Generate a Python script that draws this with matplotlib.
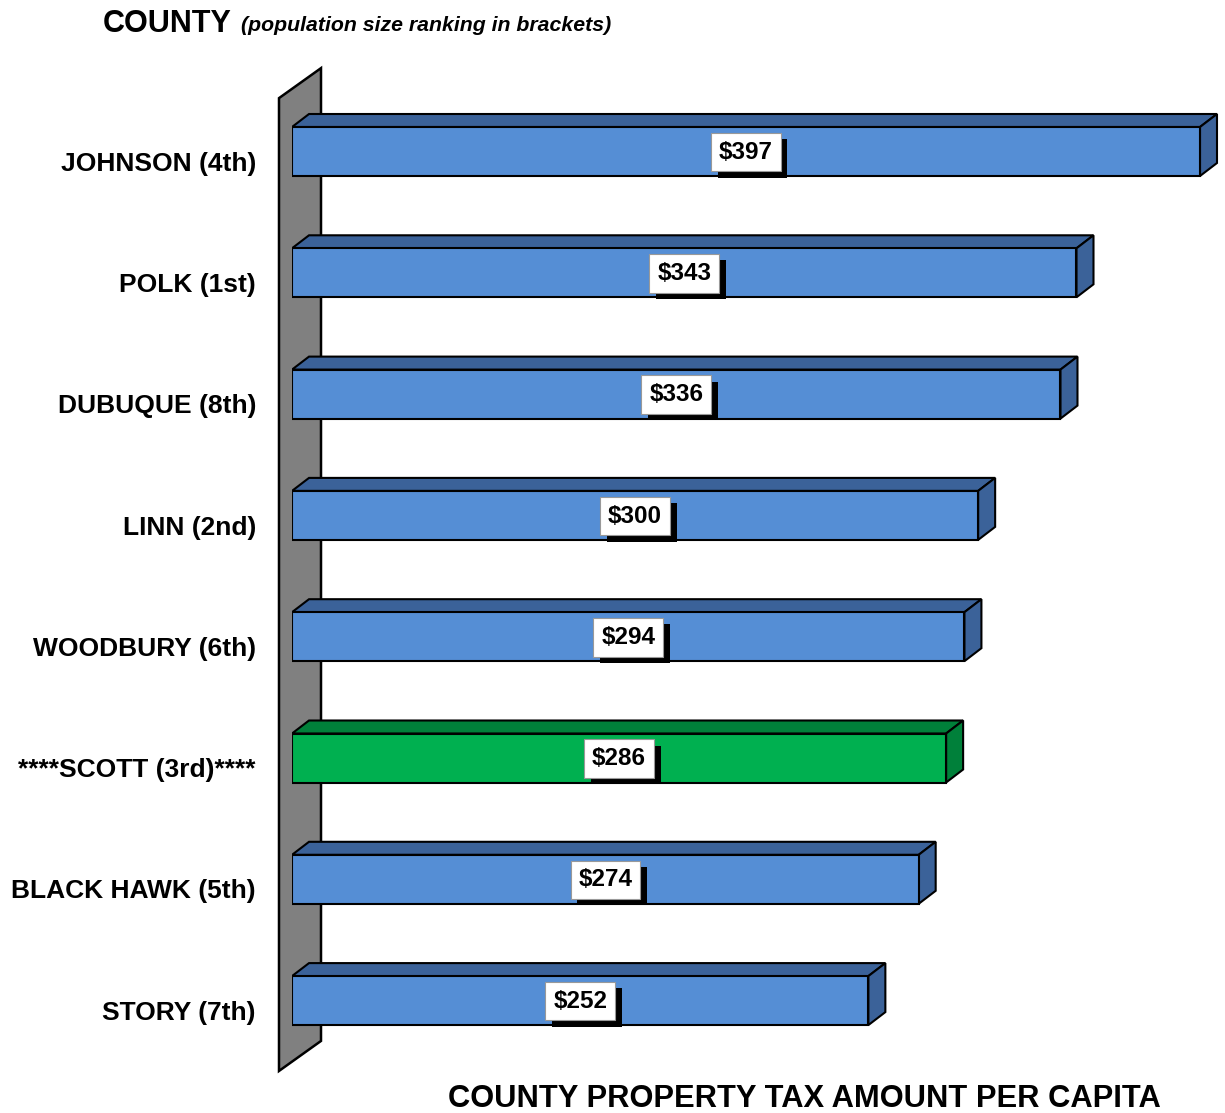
import matplotlib.pyplot as plt
from matplotlib.patches import Polygon
import matplotlib.patheffects as pe

plt.rcParams['font.family'] = ['Liberation Sans', 'DejaVu Sans']

# Datos
counties = ["JOHNSON (4th)", "POLK (1st)", "DUBUQUE (8th)", "LINN (2nd)",
            "WOODBURY (6th)", "****SCOTT (3rd)****", "BLACK HAWK (5th)", "STORY (7th)"]
tax = [397, 343, 336, 300, 294, 286, 274, 252]
highlight = "****SCOTT (3rd)****"

W, H = 1225, 1113
fig = plt.figure(figsize=(W / 100, H / 100), dpi=100)

# ejes: x=0 en 292 px, 397 en 1200 px
px_per_unit = (1200 - 292) / 397
ax_left, ax_right = 292, 1225
ax_top, ax_bot = 50, 1090
ax = fig.add_axes([ax_left / W, (H - ax_bot) / H, (ax_right - ax_left) / W, (ax_bot - ax_top) / H])
row_px = 121.3
y0_px = 151.5
ax.set_xlim(0, (ax_right - ax_left) / px_per_unit)
ax.set_ylim((ax_bot - y0_px) / row_px, (ax_top - y0_px) / row_px)
ax.axis('off')

# profundidad 3D en unidades de datos
dx = 17 / px_per_unit
dy = -13 / row_px
bar_h = 49 / row_px

# pared lateral
wdx = 42 / px_per_unit
wdy = -30 / row_px
wx = -13 / px_per_unit
wall = Polygon([(wx, -0.44), (wx + wdx, -0.44 + wdy), (wx + wdx, len(tax) - 0.42 + wdy),
                (wx, len(tax) - 0.42)], closed=True, facecolor='#808080',
               edgecolor='black', lw=1.8, clip_on=False, zorder=1)
ax.add_patch(wall)

shadow = [pe.SimplePatchShadow(offset=(4.8, -4.5), shadow_rgbFace='black', alpha=1.0), pe.Normal()]

for i, (name, v) in enumerate(zip(counties, tax)):
    if name == highlight:
        front, dark = '#00B050', '#00803A'
    else:
        front, dark = '#558ED5', '#3B6299'
    top, bot = i - bar_h / 2, i + bar_h / 2
    ax.barh(i, v, height=bar_h, left=0, color=front, edgecolor='black', lw=1.5, zorder=3)
    ax.add_patch(Polygon([(0, top), (dx, top + dy), (v + dx, top + dy), (v, top)],
                         closed=True, facecolor=dark, edgecolor='black', lw=1.5, zorder=2))
    ax.add_patch(Polygon([(v, top), (v + dx, top + dy), (v + dx, bot + dy), (v, bot)],
                         closed=True, facecolor=dark, edgecolor='black', lw=1.5, zorder=2))

    # etiqueta con sombra
    t = ax.text(v / 2, i + 0.005, "$%d" % v, ha='center', va='center',
                fontsize=17.5, fontweight='bold', color='black', zorder=5,
                bbox=dict(boxstyle='square,pad=0.32', fc='white', ec='#999999', lw=0.8))
    t.get_bbox_patch().set_path_effects(shadow)

    # nombre del condado
    ax.text(-36 / px_per_unit, i + 0.1, name, ha='right', va='center', fontsize=19,
            fontweight='bold', clip_on=False)

fig.text(103 / W, 1 - 32 / H, "COUNTY", fontsize=22, fontweight='bold', va='baseline')
fig.text(241 / W, 1 - 31 / H, "(population size ranking in brackets)", fontsize=15.3,
         fontweight='bold', fontstyle='italic', va='baseline')
fig.text(804 / W, 1 - 1107 / H, "COUNTY PROPERTY TAX AMOUNT PER CAPITA", fontsize=22.2,
         fontweight='bold', ha='center', va='baseline')

fig.savefig("out.png", dpi=100)
